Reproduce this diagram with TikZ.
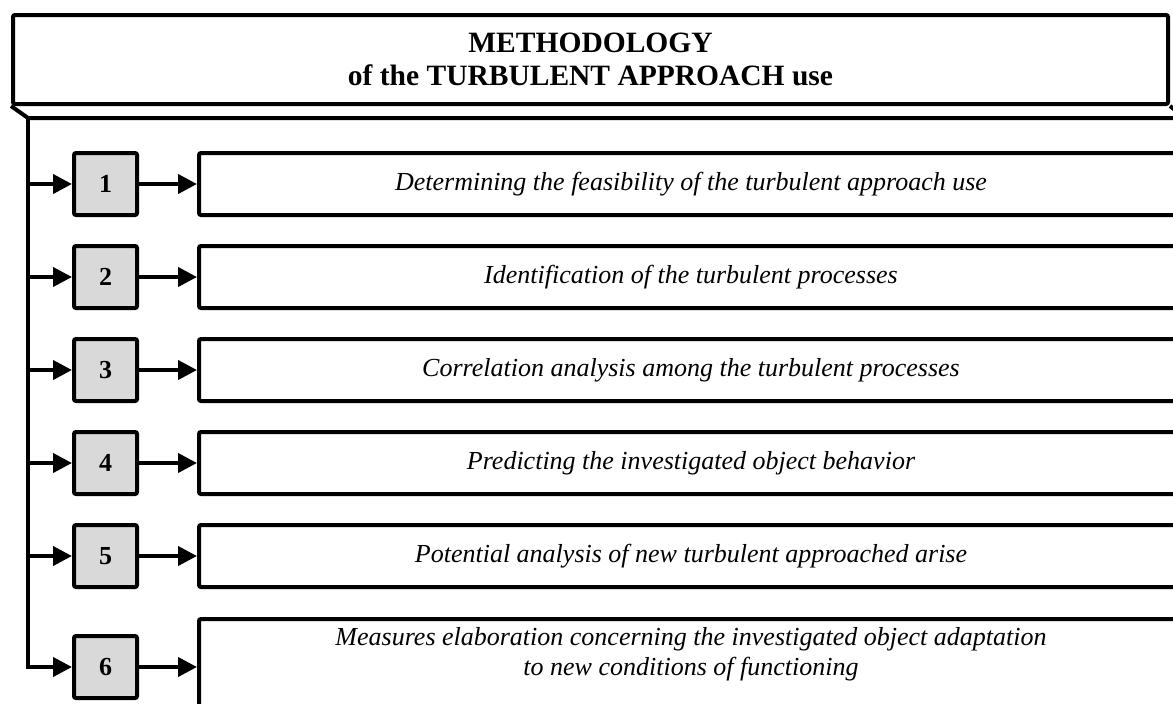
\documentclass[tikz,border=0pt]{standalone}
\usepackage{fontspec}
\setmainfont{Liberation Serif}
\usetikzlibrary{arrows.meta}
\definecolor{numgray}{HTML}{D9D9D9}
\tikzset{
  ln/.style={line width=4pt, draw=black},
  arr/.style={ln, -{Triangle[length=19pt,width=19pt]}},
  numbox/.style={ln, fill=numgray, rounded corners=2pt, minimum width=63pt, minimum height=62pt, inner sep=0pt,
    font=\fontsize{26}{30}\selectfont\bfseries},
  bigbox/.style={ln, fill=white, rounded corners=2pt, minimum width=1000pt, minimum height=62pt, inner sep=0pt, anchor=west},
  rowtext/.style={font=\fontsize{26}{30}\selectfont\itshape, align=center, inner sep=0pt}
}
\begin{document}
\begin{tikzpicture}[x=1pt,y=-1pt]
\useasboundingbox (0,0) rectangle (1173,704);
\clip (0,0) rectangle (1173,704);
% title
\node[ln, rounded corners=2pt, minimum width=1155pt, minimum height=89pt, inner sep=0pt, align=center,
  font=\fontsize{29.5}{33}\selectfont\bfseries] (title) at (590.5,59.5) {METHODOLOGY\\of the TURBULENT APPROACH use};
\coordinate (t0) at (28,118);
\coordinate (bevelR) at (1200,118);
\draw[ln] (title.south west) -- (t0) -- (bevelR);
\coordinate (tsR) at (1185,118);
\draw[ln] (title.south east) -- (tsR);
% rows
\foreach \i/\y/\t in {1/184/{Determining the feasibility of the turbulent approach use},
                      2/277/{Identification of the turbulent processes},
                      3/370/{Correlation analysis among the turbulent processes},
                      4/463/{Predicting the investigated object behavior},
                      5/556/{Potential analysis of new turbulent approached arise}}{
  \node[numbox] (n\i) at (105.5,\y) {\i};
  \node[bigbox] (b\i) at (197,\y) {};
  \node[rowtext] (x\i) at (691,\y) {\t};
  \draw[arr] (n\i.west -| t0) -- (n\i.west);
  \draw[arr] (n\i.east) -- (b\i.west);
}
% row 6
\node[numbox] (n6) at (105.5,667) {6};
\node[bigbox, anchor=north west, minimum height=120pt] (b6) at (197,617) {};
\node[rowtext] (x6) at (691,654) {Measures elaboration concerning the investigated object adaptation\\to new conditions of functioning};
\draw[arr] (t0) |- (n6.west);
\draw[arr] (n6.east) -- (b6.west |- n6.east);
\end{tikzpicture}
\end{document}
